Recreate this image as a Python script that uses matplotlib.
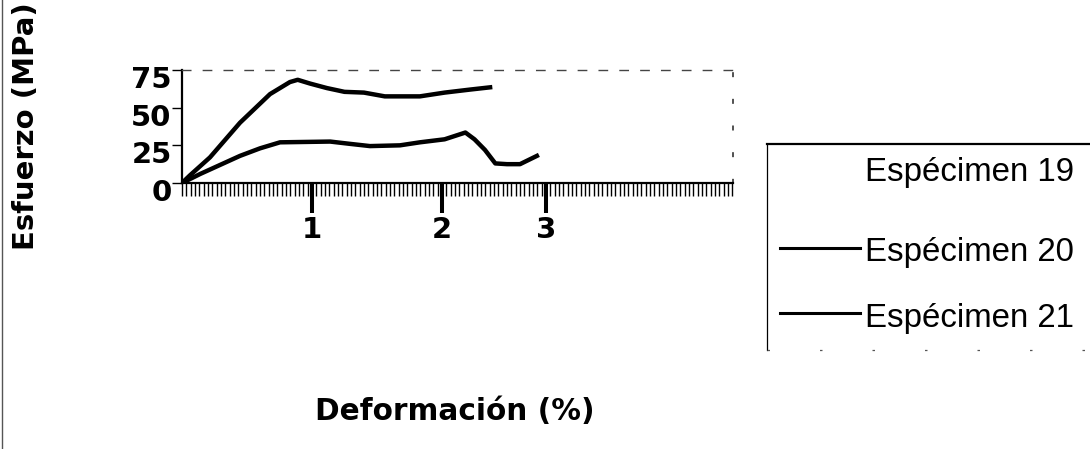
import matplotlib
matplotlib.use("Agg")
import matplotlib.pyplot as plt
from matplotlib.lines import Line2D
from matplotlib.ticker import MultipleLocator, FixedLocator
import matplotlib.transforms as mtransforms

# Stress-strain curves (strain in %, stress in MPa)
strain_20 = [0.0, 0.06, 0.215, 0.446, 0.677, 0.83, 0.89, 0.985, 1.115, 1.25,
             1.40, 1.56, 1.83, 2.02, 2.215, 2.37]
stress_20 = [0.0, 5.0, 17.0, 40.0, 59.0, 67.0, 68.5, 66.0, 63.0, 60.5,
             60.0, 57.5, 57.5, 60.0, 62.0, 63.5]

strain_21 = [0.0, 0.14, 0.446, 0.60, 0.754, 1.14, 1.29, 1.446, 1.677, 1.83,
             2.02, 2.18, 2.25, 2.33, 2.41, 2.50, 2.60, 2.73]
stress_21 = [0.0, 6.0, 18.0, 23.0, 27.0, 27.5, 26.0, 24.5, 25.0, 27.0,
             29.0, 33.5, 29.0, 22.0, 13.0, 12.5, 12.5, 18.0]

series_labels = ["Espécimen 19", "Espécimen 20", "Espécimen 21"]
series_colors = ["white", "black", "black"]

x_tick_pos = [1.0, 2.0, 2.8]
x_tick_labels = ["1", "2", "3"]
y_ticks = [0, 25, 50, 75]

W, H = 1090, 449
fig = plt.figure(figsize=(W / 100, H / 100), dpi=100)
fig.patch.set_facecolor("white")

ax = fig.add_axes([182 / W, 1 - 183 / H, (733 - 182) / W, (183 - 70) / H])
ax.plot(strain_20, stress_20, color=series_colors[1], lw=3.2,
        solid_joinstyle="round", label=series_labels[1])
ax.plot(strain_21, stress_21, color=series_colors[2], lw=3.2,
        solid_joinstyle="round", label=series_labels[2])

ax.set_xlim(0, 551 / 130)
ax.set_ylim(0, 75)

# Axes frame: solid left/bottom, broken top/right
for side in ("left", "bottom"):
    ax.spines[side].set_linewidth(1.6)
    ax.spines[side].set_color("black")
ax.spines["top"].set_linestyle((0, (6, 9)))
ax.spines["top"].set_linewidth(1.0)
ax.spines["top"].set_color("#444444")
ax.spines["right"].set_linestyle((0, (2, 14)))
ax.spines["right"].set_linewidth(1.2)
ax.spines["right"].set_color("#333333")

bold = dict(family="DejaVu Sans", weight="bold", size=21)

ax.xaxis.set_major_locator(FixedLocator(x_tick_pos))
ax.set_xticklabels(x_tick_labels, fontdict=bold)
ax.xaxis.set_minor_locator(MultipleLocator(1 / 30))
ax.tick_params(axis="x", which="major", direction="out", length=21.5,
               width=2.9, pad=2.5, color="black")
ax.tick_params(axis="x", which="minor", direction="out", length=9.5,
               width=1.0, color="black")

ax.set_yticks(y_ticks)
ax.set_yticklabels([str(v) for v in y_ticks], fontdict=bold)
ax.tick_params(axis="y", which="major", direction="out", length=7,
               width=1.0, pad=0.5, color="black")
shift = mtransforms.ScaledTranslation(0, -5 / 72, fig.dpi_scale_trans)
for lab in ax.get_yticklabels():
    lab.set_transform(lab.get_transform() + shift)

# Axis titles
fig.text(26 / W, 1 - 126 / H, "Esfuerzo (MPa)", rotation=90,
         ha="center", va="center", family="DejaVu Sans", weight="bold", size=21)
fig.text(455 / W, 1 - 411 / H, "Deformación (%)", ha="center", va="center",
         family="DejaVu Sans", weight="bold", size=21.3)

# Legend box drawn in figure pixels: solid top, thin left, faint dotted bottom
def fig_line(x0, y0, x1, y1, **kw):
    fig.add_artist(Line2D([x0 / W, x1 / W], [1 - y0 / H, 1 - y1 / H],
                          transform=fig.transFigure, **kw))

fig_line(767, 144, W, 144, color="black", lw=1.6)
fig_line(767, 144, 767, 350, color="black", lw=0.9)
fig_line(767, 350, W, 350, color="#555555", lw=0.9, linestyle=(0, (2, 40)))

entry_text_y = [173, 253, 318]
entry_line_y = [168, 248, 313]
for lab, col, ty, ly in zip(series_labels, series_colors, entry_text_y, entry_line_y):
    fig_line(780, ly, 860, ly, color=col, lw=2.2)
    fig.text(865 / W, 1 - ty / H, lab, ha="left", va="center",
             family="Liberation Sans", size=23.8)

# Thin page edge on the left
fig_line(1.5, 0, 1.5, H, color="#555555", lw=1.0)

fig.savefig("out.png", dpi=100, facecolor="white")
